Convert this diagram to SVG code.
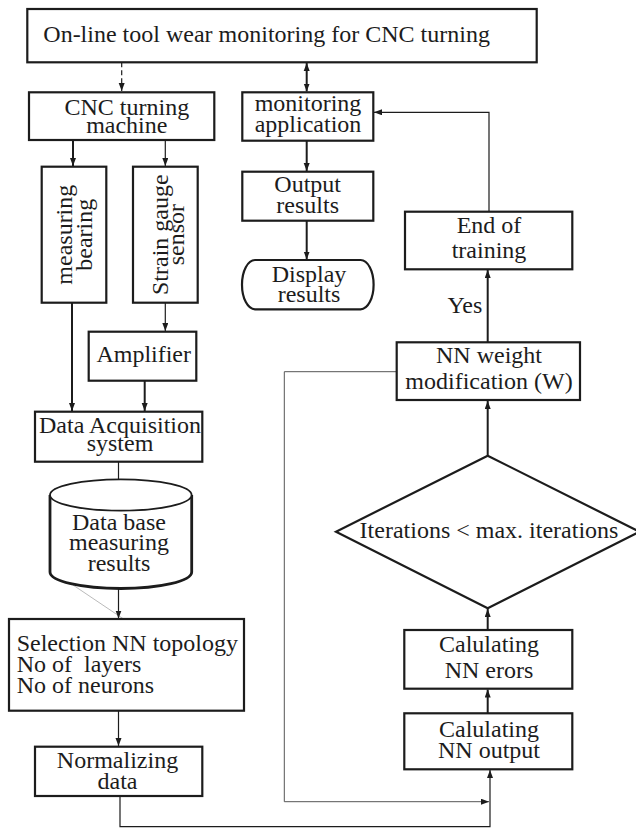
<svg xmlns="http://www.w3.org/2000/svg" width="636" height="829" viewBox="0 0 636 829">
<style>
.b{fill:#fff;stroke:#1c1c1c;stroke-width:2.2}
.t{font-family:"Liberation Serif","Times New Roman",serif;font-size:24px;fill:#1c1c1c;text-anchor:middle}
.l{fill:none;stroke:#1c1c1c;stroke-width:2}
.n{fill:none;stroke:#1c1c1c;stroke-width:1.2}
.g{fill:none;stroke:#555;stroke-width:1}
</style>
<defs>
<marker id="a" markerUnits="userSpaceOnUse" markerWidth="9" markerHeight="7" refX="8" refY="3" orient="auto">
<path d="M0,0 L8,3 L0,6 z" fill="#1c1c1c"/>
</marker>
<marker id="s" markerUnits="userSpaceOnUse" markerWidth="9" markerHeight="7" refX="0" refY="3" orient="auto">
<path d="M8,0 L0,3 L8,6 z" fill="#1c1c1c"/>
</marker>
</defs>
<g id="connectors">
<line class="n" x1="121.7" y1="62.3" x2="121.7" y2="91" stroke-dasharray="5,3" marker-end="url(#a)"/>
<line class="l" x1="306.7" y1="63" x2="306.7" y2="91.5" marker-start="url(#s)" marker-end="url(#a)"/>
<line class="l" x1="73" y1="140" x2="73" y2="166" marker-end="url(#a)"/>
<line class="n" x1="165.3" y1="140" x2="165.3" y2="166" marker-end="url(#a)"/>
<line class="l" x1="72" y1="302.7" x2="72" y2="411" marker-end="url(#a)"/>
<line class="n" x1="165.3" y1="302.7" x2="165.3" y2="331" marker-end="url(#a)"/>
<line class="l" x1="144.7" y1="380.7" x2="144.7" y2="411" marker-end="url(#a)"/>
<line class="n" x1="118.5" y1="461.7" x2="118.5" y2="490" marker-end="url(#a)"/>
<line x1="73" y1="585" x2="135" y2="626.7" stroke="#bbb" stroke-width="1"/>
<line class="n" x1="118.5" y1="589" x2="118.5" y2="618.5" marker-end="url(#a)"/>
<line class="n" x1="118.5" y1="710.7" x2="118.5" y2="746" marker-end="url(#a)"/>
<path class="n" d="M120,796 V826.7 H490 V770" marker-end="url(#a)" stroke="#333" stroke-width="1"/>
<path class="g" d="M396.7,371.7 H284.3 V801.7 H489" marker-end="url(#a)"/>
<line class="l" x1="306.7" y1="140.7" x2="306.7" y2="171" marker-end="url(#a)"/>
<line class="l" x1="306.7" y1="220.7" x2="306.7" y2="259.5" marker-end="url(#a)"/>
<path class="n" d="M489,211.7 V112.3 H374" stroke-width="1.5" marker-end="url(#a)"/>
<line class="l" x1="487.7" y1="342.3" x2="487.7" y2="270" marker-end="url(#a)"/>
<line class="l" x1="487.7" y1="455.7" x2="487.7" y2="401" marker-end="url(#a)"/>
<line class="l" x1="487.7" y1="630" x2="487.7" y2="609" marker-end="url(#a)"/>
<line class="l" x1="487.7" y1="713.3" x2="487.7" y2="689.5" marker-end="url(#a)"/>
<text class="t" x="482.3" y="313.3" style="text-anchor:end">Yes</text>
</g>
<g id="title">
<rect class="b" x="27.3" y="9" width="509.4" height="53.3"/>
<text class="t" x="43.3" y="41.7" style="text-anchor:start">On-line tool wear monitoring for CNC turning</text>
</g>
<g id="cnc">
<rect class="b" x="29" y="92.3" width="185.3" height="47.7"/>
<text class="t" x="126.8" y="115">CNC turning</text>
<text class="t" x="126.8" y="133.3">machine</text>
</g>
<g id="monitoring">
<rect class="b" x="242.3" y="92.3" width="131" height="48.4"/>
<text class="t" x="308" y="110.7">monitoring</text>
<text class="t" x="308" y="131.7">application</text>
</g>
<g id="measuring">
<rect class="b" x="41.7" y="166.7" width="64.6" height="136"/>
<text class="t" transform="translate(72,234.7) rotate(-90)">measuring</text>
<text class="t" transform="translate(91.5,234.7) rotate(-90)">bearing</text>
</g>
<g id="strain">
<rect class="b" x="133" y="166.7" width="64.7" height="136"/>
<text class="t" transform="translate(167.5,234.7) rotate(-90)">Strain gauge</text>
<text class="t" transform="translate(183.5,234.7) rotate(-90)">sensor</text>
</g>
<g id="amplifier">
<rect class="b" x="88.7" y="331.7" width="107.6" height="49"/>
<text class="t" x="143.7" y="361.7">Amplifier</text>
</g>
<g id="acquisition">
<rect class="b" x="35" y="411.7" width="167.3" height="50"/>
<text class="t" x="120" y="432.7">Data Acquisition</text>
<text class="t" x="120" y="451">system</text>
</g>
<g id="database">
<path d="M50,495 V572 A70.8,16.5 0 0 0 191.7,572 V495" fill="#fff" stroke="#1c1c1c" stroke-width="2.8"/>
<ellipse cx="120.8" cy="495" rx="70.8" ry="15.7" fill="#fff" stroke="#1c1c1c" stroke-width="1.8"/>
<text class="t" x="119" y="530">Data base</text>
<text class="t" x="119" y="550">measuring</text>
<text class="t" x="119" y="571">results</text>
</g>
<g id="selection">
<rect class="b" x="9" y="619" width="235" height="91.7"/>
<text class="t" x="16.7" y="650.7" style="text-anchor:start">Selection NN topology</text>
<text class="t" x="16.7" y="672.3" style="text-anchor:start" xml:space="preserve">No of  layers</text>
<text class="t" x="16.7" y="693.3" style="text-anchor:start">No of neurons</text>
</g>
<g id="normalizing">
<rect class="b" x="35" y="746.7" width="167.3" height="49.3"/>
<text class="t" x="117.5" y="768.3">Normalizing</text>
<text class="t" x="117.5" y="789.3">data</text>
</g>
<g id="output">
<rect class="b" x="242.3" y="171.7" width="131" height="49"/>
<text class="t" x="307.7" y="191.7">Output</text>
<text class="t" x="307.7" y="213.3">results</text>
</g>
<g id="display">
<rect class="b" x="242" y="260" width="131.6" height="49.3" rx="13" ry="24.6"/>
<text class="t" x="309" y="281.7">Display</text>
<text class="t" x="309" y="301.7">results</text>
</g>
<g id="endtraining">
<rect class="b" x="405" y="211.7" width="167.3" height="57.6"/>
<text class="t" x="489" y="233.3">End of</text>
<text class="t" x="489" y="258.3">training</text>
</g>
<g id="weight">
<rect class="b" x="396.7" y="342.3" width="183.3" height="57.7"/>
<text class="t" x="489" y="363.3">NN weight</text>
<text class="t" x="489" y="389.3">modification (W)</text>
</g>
<g id="decision">
<polygon class="b" points="487.7,455.7 639.4,531.7 487.7,608.3 336,531.7"/>
<text class="t" x="489" y="538.3">Iterations &lt; max. iterations</text>
</g>
<g id="errors">
<rect class="b" x="404.3" y="630" width="168" height="58.7"/>
<text class="t" x="489" y="651.7">Calulating</text>
<text class="t" x="489" y="677.7">NN erors</text>
</g>
<g id="nnoutput">
<rect class="b" x="404.3" y="713.3" width="168" height="56"/>
<text class="t" x="489" y="736.7">Calulating</text>
<text class="t" x="489" y="758.3">NN output</text>
</g>
</svg>
